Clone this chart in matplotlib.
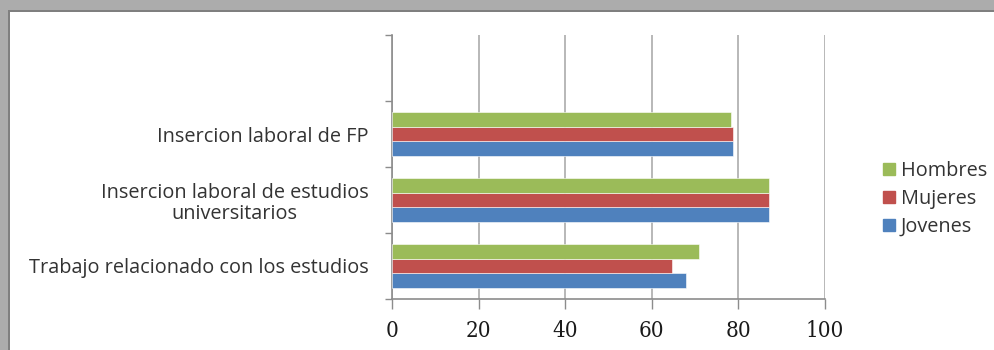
import numpy as np
import matplotlib
matplotlib.use("Agg")
import matplotlib.pyplot as plt
from matplotlib.patches import Rectangle, Patch

# ----------------------
# Data
# ----------------------
categories = [
    "Trabajo relacionado con los estudios",
    "Insercion laboral de estudios\nuniversitarios",
    "Insercion laboral de FP",
]
jovenes = [67.8, 87.1, 78.8]
mujeres = [64.7, 87.1, 78.8]
hombres = [70.9, 87.1, 78.4]
series_names = ["Jovenes", "Mujeres", "Hombres"]
colors = ["#4f81bd", "#c0504d", "#9bbb59"]
xticks = [0, 20, 40, 60, 80, 100]

fig = plt.figure(figsize=(9.95, 3.5), dpi=100)
fig.patch.set_facecolor("white")

# window-like grey frame at top and left
W, H = 995, 350
fig.add_artist(Rectangle((0, 1 - 11 / H), 1, 11 / H, transform=fig.transFigure,
                         facecolor="#acacac", edgecolor="none"))
fig.add_artist(Rectangle((0, 0), 8 / W, 1, transform=fig.transFigure,
                         facecolor="#acacac", edgecolor="none"))
fig.add_artist(Rectangle((8 / W, 1 - 12 / H), 1, 1.5 / H, transform=fig.transFigure,
                         facecolor="#7f7f7f", edgecolor="none"))
fig.add_artist(Rectangle((8 / W, 0), 1.5 / W, 1 - 10.5 / H, transform=fig.transFigure,
                         facecolor="#7f7f7f", edgecolor="none"))

ax = fig.add_axes([392 / W, 1 - 299 / H, (825 - 392) / W, (299 - 35) / H])

centers = np.arange(len(categories)) + 0.5
h = 0.222
for i, (vals, name, c) in enumerate(zip([jovenes, mujeres, hombres], series_names, colors)):
    ax.barh(centers + (i - 1) * h, vals, height=h, color=c, label=name,
            edgecolor="white", linewidth=0.4, zorder=3)

ax.set_xlim(0, 100)
ax.set_ylim(0, 4)
ax.set_xticks(xticks)
ax.set_xticklabels([str(t) for t in xticks], family=["DejaVu Serif"], fontstretch="condensed",
                   fontsize=16, color="#1a1a1a")
ax.xaxis.grid(True, color="#b8b8b8", linewidth=1.4, zorder=0)

label_font = ["Open Sans", "DejaVu Sans"]
ax.set_yticks(np.arange(0, 5))
ax.set_yticklabels([])
ax.set_yticks(centers, minor=True)
ax.set_yticklabels(categories, minor=True, family=label_font, fontsize=14.3,
                   color="#333333", ha="right", multialignment="center", linespacing=1.1)
ax.tick_params(axis="y", which="minor", length=0, pad=17)
ax.tick_params(axis="y", which="major", length=5, color="#8c8c8c", width=1)
ax.tick_params(axis="x", which="major", length=7, color="#8c8c8c", width=1, pad=8)

for s in ["top", "right"]:
    ax.spines[s].set_visible(False)
ax.spines["left"].set_color("#8c8c8c")
ax.spines["bottom"].set_color("#8c8c8c")
ax.spines["left"].set_linewidth(1.2)
ax.spines["bottom"].set_linewidth(1.2)

handles = [Patch(color=colors[2], label="Hombres"),
           Patch(color=colors[1], label="Mujeres"),
           Patch(color=colors[0], label="Jovenes")]
leg = fig.legend(handles=handles, loc="center left", bbox_to_anchor=(865 / W, 1 - 199 / H),
                 frameon=False, handlelength=0.6, handleheight=0.6, handletextpad=0.3,
                 labelspacing=0.4, prop={"family": label_font, "size": 14.3},
                 labelcolor="#333333")

fig.savefig("out.png", dpi=100)
